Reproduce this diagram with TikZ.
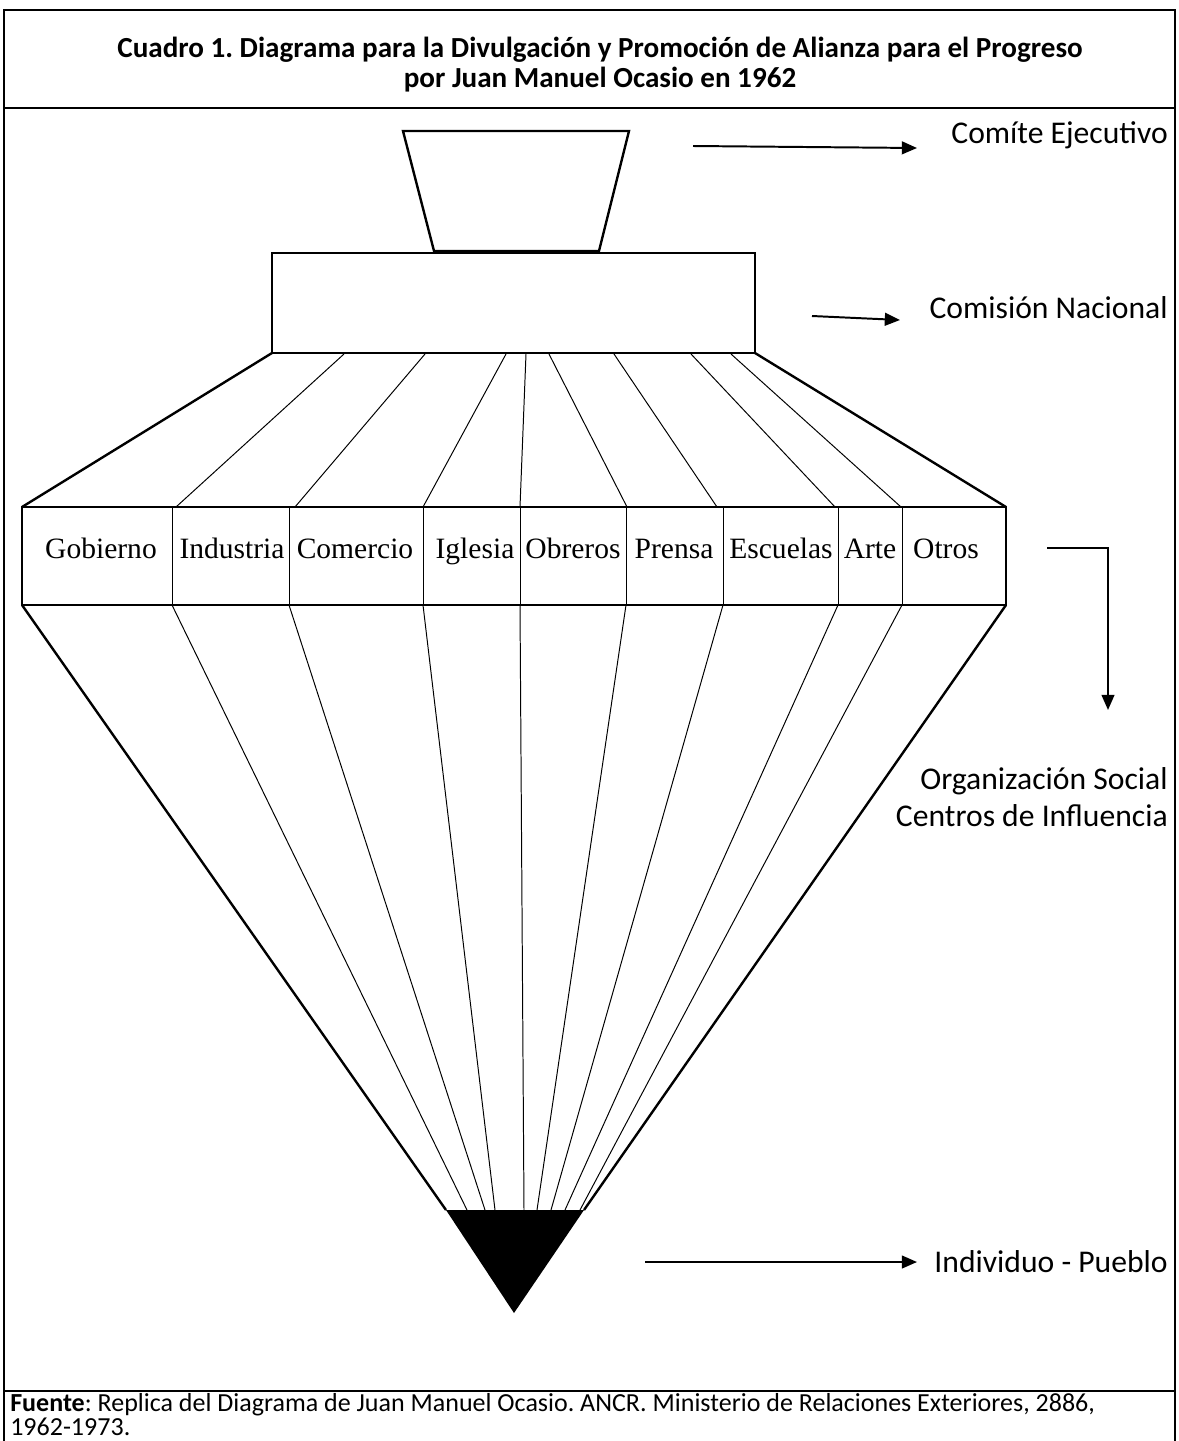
\documentclass[tikz,border=0pt]{standalone}
\usepackage{fontspec}
\setmainfont{Carlito}
\newfontfamily\bandfont{Liberation Serif}
\usetikzlibrary{arrows.meta}
\frenchspacing
\tikzset{
	frame/.style = {line width=1.4pt},
	solid box/.style = {line width=1.7pt, line join=miter},
	band/.style = {line width=2.1pt},
	thin ray/.style = {line width=0.7pt},
	pointer/.style = {line width=1.4pt, -{Triangle[length=3.8mm,width=3.2mm]}},
	level/.style = {anchor=east, font=\fontsize{22.5}{26}\selectfont, align=right, inner sep=0pt},
	sector/.style = {anchor=base, font=\bandfont\fontsize{21}{24}\selectfont, inner sep=0pt}
}

\begin{document}
\begin{tikzpicture}[x=0.025cm, y=-0.025cm]
	\useasboundingbox (0,0) rectangle (1178,1441);
	% table frame
	\draw[frame] (4,1441) -- (4,10) -- (1175,10) -- (1175,1441);
	\draw[frame] (4,108) -- (1175,108);
	\draw[frame] (4,1391) -- (1175,1391);
	\node (title) [align=center, font=\bfseries\fontsize{20.7}{21.3}\selectfont] at (600,65)
		{Cuadro 1. Diagrama para la Divulgación y Promoción de Alianza para el Progreso\\por Juan Manuel Ocasio en 1962};

	% top blocks
	\draw[solid box] (403,131) -- (629,131) -- (599,251) -- (434,251) -- cycle;
	\draw[solid box] (272,253) rectangle (755,353);
	\draw[solid box] (272,353) -- (22,507);
	\draw[solid box] (755,353) -- (1006,507);
	\draw[thin ray] (344,354) -- (176,507);
	\draw[thin ray] (425,354) -- (295,507);
	\draw[thin ray] (506,354) -- (423,507);
	\draw[thin ray] (526,354) -- (520,507);
	\draw[thin ray] (549,354) -- (627,507);
	\draw[thin ray] (614,354) -- (717,507);
	\draw[thin ray] (691,354) -- (835,507);
	\draw[thin ray] (731,354) -- (901,507);

	% band of sectors
	\draw[band] (22,507) rectangle (1006,605);
	\draw[thin ray] (172,507) -- (172,605);
	\draw[thin ray] (289,507) -- (289,605);
	\draw[thin ray] (423,507) -- (423,605);
	\draw[thin ray] (520,507) -- (520,605);
	\draw[thin ray] (626,507) -- (626,605);
	\draw[thin ray] (723,507) -- (723,605);
	\draw[thin ray] (838,507) -- (838,605);
	\draw[thin ray] (902,507) -- (902,605);
	\node (gob) [sector] at (101,558) {Gobierno};
	\node (ind) [sector] at (232,558) {Industria};
	\node (com) [sector] at (355,558) {Comercio};
	\node (igl) [sector] at (475,558) {Iglesia};
	\node (obr) [sector] at (573,558) {Obreros};
	\node (pre) [sector] at (674,558) {Prensa};
	\node (esc) [sector] at (781,558) {Escuelas};
	\node (art) [sector] at (870,558) {Arte};
	\node (otr) [sector] at (946,558) {Otros};

	% cone down to the people
	\draw[solid box] (22,605) -- (446,1210);
	\draw[solid box] (1006,605) -- (584,1210);
	\draw[thin ray] (172,605) -- (467,1210);
	\draw[thin ray] (289,605) -- (485,1210);
	\draw[thin ray] (423,605) -- (495,1210);
	\draw[thin ray] (520,605) -- (524,1210);
	\draw[thin ray] (626,605) -- (537,1210);
	\draw[thin ray] (723,605) -- (551,1210);
	\draw[thin ray] (838,605) -- (565,1210);
	\draw[thin ray] (902,605) -- (580,1210);
	\fill (446,1210) -- (584,1210) -- (514,1313) -- cycle;

	% labels and pointers
	\node (comite) [level] at (1168,135) {Comíte Ejecutivo};
	\node (comision) [level] at (1168,308) {Comisión Nacional};
	\node (organiz) [level] at (1168,797) {Organización Social\\Centros de Influencia};
	\node (pueblo) [level] at (1168,1262) {Individuo - Pueblo};
	\coordinate (ce) at (693,146);
	\coordinate (ce tip) at (917,148);
	\coordinate (cn) at (812,316);
	\coordinate (cn tip) at (900,320);
	\coordinate (os) at (1047,548);
	\coordinate (os tip) at (1108,710);
	\coordinate (ip) at (645,1262);
	\coordinate (ip tip) at (917,1262);
	\draw[pointer] (ce) -- (ce tip);
	\draw[pointer] (cn) -- (cn tip);
	\draw[pointer] (os) -| (os tip);
	\draw[pointer] (ip) -- (ip tip);

	% source
	\node (fuente) [anchor=base west, align=left, inner sep=0pt, font=\fontsize{18.5}{14.6}\selectfont] at (10,1435)
		{\textbf{Fuente}: Replica del Diagrama de Juan Manuel Ocasio. ANCR. Ministerio de Relaciones Exteriores, 2886,\\1962-1973.};
\end{tikzpicture}
\end{document}
